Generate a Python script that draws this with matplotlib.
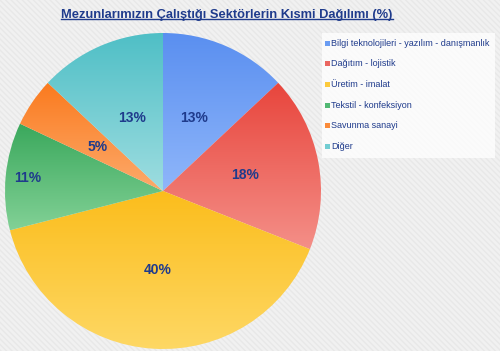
import matplotlib.pyplot as plt
import numpy as np
from matplotlib.patches import Rectangle
from matplotlib.colors import LinearSegmentedColormap

plt.rcParams['font.family'] = ['Liberation Sans', 'DejaVu Sans']

sectors = ['Bilgi teknolojileri - yazılım - danışmanlık', 'Dağıtım - lojistik',
           'Üretim - imalat', 'Tekstil - konfeksiyon', 'Savunma sanayi', 'Diğer']
shares = [13, 18, 40, 11, 5, 13]
top_colors = ['#5a8ff0', '#e8453c', '#fbbd1c', '#3aa85c', '#fa7a1e', '#4fbfc6']
bottom_colors = ['#8fb6fa', '#f48f88', '#fed865', '#82d196', '#fdaa6b', '#9edde0']
legend_colors = ['#6a9cf2', '#ea6660', '#fcca3c', '#52b873', '#fa8b3a', '#72cdd2']
label_dist = [0.5, 0.53, 0.5, 0.86, 0.5, 0.5]

navy = '#1f3b8c'

fig = plt.figure(figsize=(5, 3.51), dpi=100)
fig.patch.set_facecolor('#f1f1f1')
bg = fig.add_axes([0, 0, 1, 1])
bg.set_axis_off()
bg.add_patch(Rectangle((0, 0), 1, 1, transform=bg.transAxes, facecolor='#f1f1f1',
                       edgecolor='#e8e8e8', hatch='\\\\\\\\\\\\', linewidth=0))

ax = fig.add_axes([5 / 500, 2 / 351, 316 / 500, 316 / 351])
wedges, _ = ax.pie(shares, startangle=90, counterclock=False, radius=1,
                   wedgeprops=dict(linewidth=0))
ax.set_aspect('equal')
ax.set_axis_off()

for w, c1, c2, d, v in zip(wedges, top_colors, bottom_colors, label_dist, shares):
    w.set_facecolor('none')
    verts = w.get_path().vertices
    ymin, ymax = verts[:, 1].min(), verts[:, 1].max()
    cmap = LinearSegmentedColormap.from_list('g', [c1, c2])
    grad = np.linspace(0, 1, 256).reshape(-1, 1)
    im = ax.imshow(grad, cmap=cmap, extent=[-1, 1, ymin, ymax], aspect='auto',
                   origin='upper', zorder=1)
    im.set_clip_path(w)
    mid = np.deg2rad((w.theta1 + w.theta2) / 2)
    ax.text(d * np.cos(mid), d * np.sin(mid), f'{v}%', ha='center', va='center',
            fontsize=10, fontweight='bold', color=navy, zorder=3)
ax.set_xlim(-1, 1)
ax.set_ylim(-1, 1)

# legend
lax = fig.add_axes([322 / 500, 1 - 158 / 351, 173 / 500, 125 / 351])
lax.set_xlim(0, 173)
lax.set_ylim(125, 0)
lax.set_axis_off()
lax.add_patch(Rectangle((0, 0), 173, 125, facecolor='white', alpha=0.75, linewidth=0))
for i, (name, c) in enumerate(zip(sectors, legend_colors)):
    y = 10 + i * 20.7
    lax.add_patch(Rectangle((3, y - 2.5), 5, 5, facecolor=c, linewidth=0))
    lax.text(9, y, name, fontsize=6.5, color=navy, va='center', ha='left')

title = fig.text(227 / 500, 1 - 15 / 351, 'Mezunlarımızın Çalıştığı Sektörlerin Kısmi Dağılımı (%)',
                 ha='center', va='center', fontsize=9.3, fontweight='bold', color=navy)
fig.canvas.draw()
bb = title.get_window_extent().transformed(fig.transFigure.inverted())
fig.add_artist(plt.Line2D([bb.x0, bb.x1], [bb.y0 + 0.006, bb.y0 + 0.006],
                          transform=fig.transFigure, color=navy, linewidth=1))

fig.savefig('out.png', dpi=100, facecolor=fig.get_facecolor())
